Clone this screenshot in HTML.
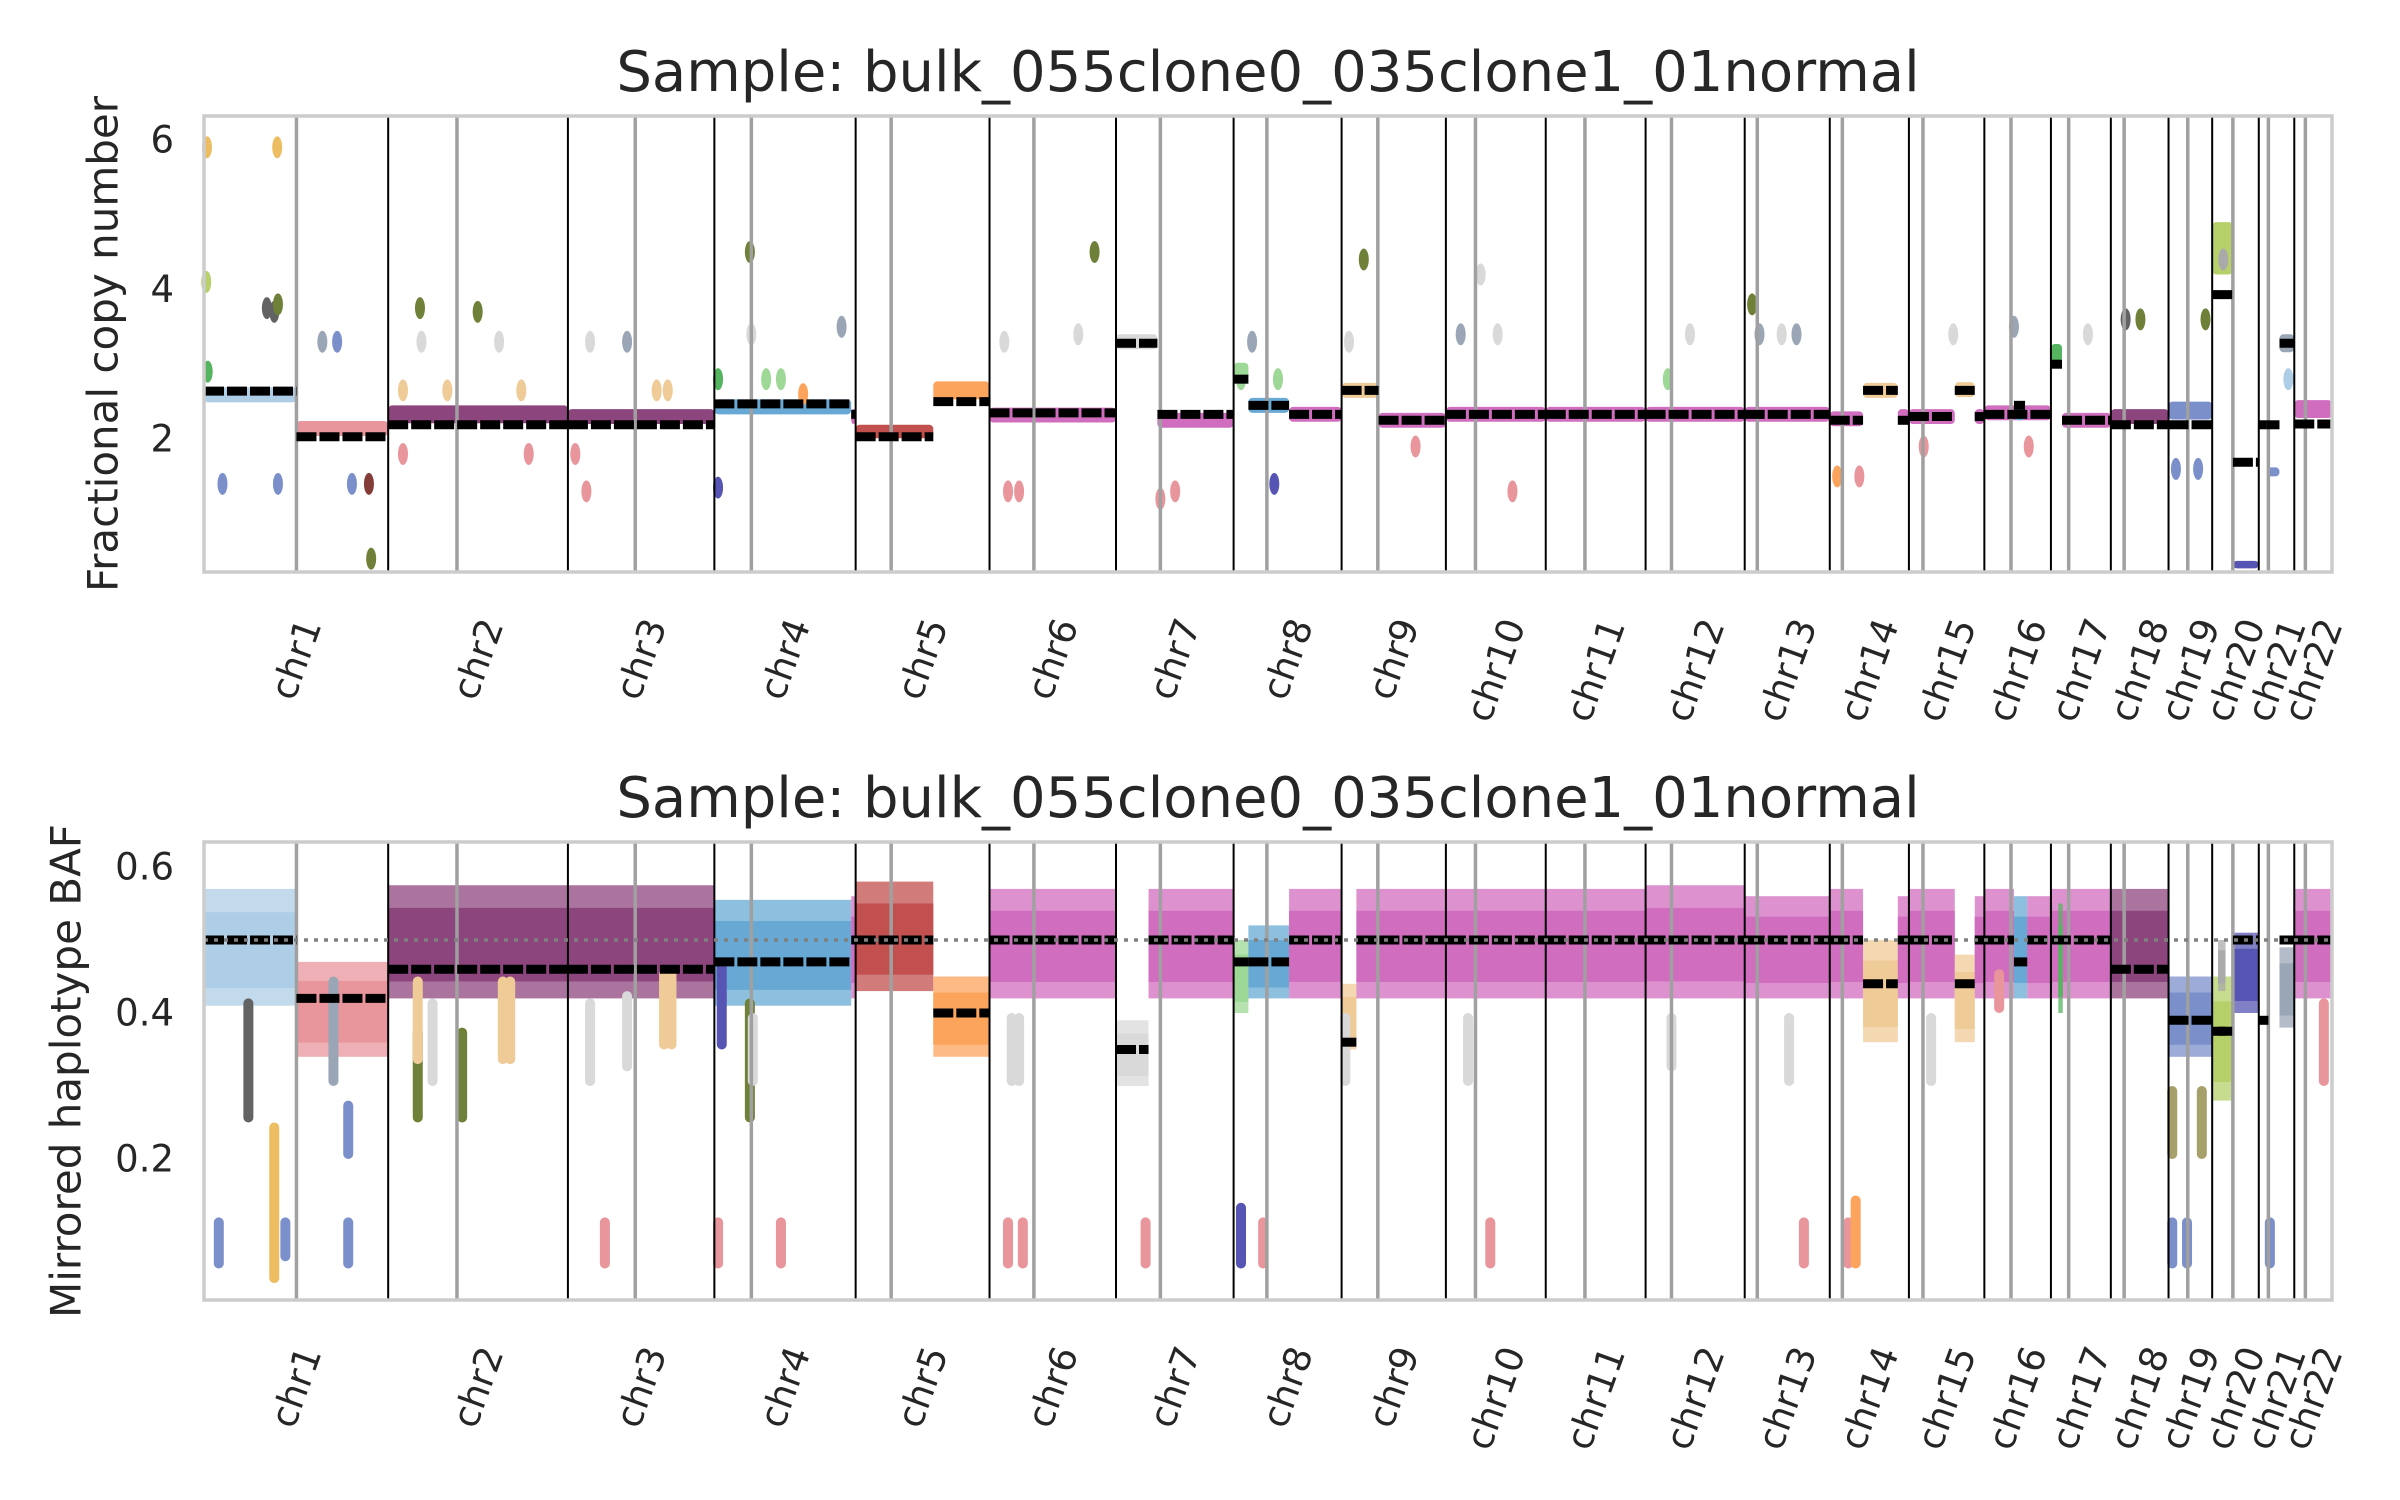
<!DOCTYPE html>
<html><head><meta charset="utf-8"><style>
html,body{margin:0;padding:0;background:#fff;}
svg{display:block;font-family:"DejaVu Sans","Liberation Sans",sans-serif;}
</style></head><body>
<svg id="chart" width="2400" height="1500" viewBox="0 0 2400 1500" xmlns="http://www.w3.org/2000/svg">
<rect x="0" y="0" width="2400" height="1500" fill="#fff"/>
<g id="cn-panel"></g>
<g id="baf-panel"></g>
</svg>
<script>
const chromNames = ["chr1","chr2","chr3","chr4","chr5","chr6","chr7","chr8","chr9","chr10","chr11","chr12","chr13","chr14","chr15","chr16","chr17","chr18","chr19","chr20","chr21","chr22"];
const chromLengths = [249,243,198,191,181,171,159,146,141,135,135,134,115,107,102,90,81,78,59,63,48,51];
const centromeres = [125,93,91,50,48,60,60,45,49,40,53,35,17,17,19,36,24,18,26,28,13,15];
const cnTicks = [2,4,6];
const bafTicks = [0.2,0.4,0.6];
const palette = {LB:"#aecde6",PK:"#e8959b",PU:"#8d457d",BL:"#67a9d4",DR:"#c1504f",OR:"#fca35c",MG:"#d16dbf",LG:"#d9d9d9",LGR:"#9dd896",TAN:"#efcb98",GR:"#54b45f",PE:"#7b8fcb",YG:"#b6d06a",DB:"#5755b3",GB:"#9aa6b6",OL:"#6f8139",DG:"#636363",YEL:"#ecbd61",BR:"#843c39",GRY:"#aaaaaa",KH:"#a8a06a"};

// CN segments
const cnChrom  = [1,1,2,3,4,4,5,5,6,7,7,8,8,8,9,9,10,11,12,13,14,14,14,15,15,15,16,16,17,17,18,19,20,20,21,21,21,22];
const cnStart  = [0,125,0,0,0,185,0,105,0,0,56,0,20,75,0,50,0,0,0,0,0,45,92,0,62,89,0,40,0,15,0,0,0,28,0,11,28,0];
const cnEnd    = [125,249,243,198,185,191,105,181,171,56,159,20,75,146,50,141,135,135,134,115,45,92,107,62,89,102,90,55,15,81,78,59,28,63,11,28,48,51];
const cnValue  = [2.59,2.14,2.33,2.3,2.43,2.3,2.1,2.65,2.32,3.3,2.25,2.9,2.45,2.33,2.65,2.25,2.33,2.33,2.33,2.33,2.27,2.65,2.3,2.3,2.66,2.3,2.35,2.35,3.15,2.25,2.3,2.38,4.55,0.32,2.19,1.56,3.28,2.4];
const cnSpread = [0.1,0.1,0.12,0.1,0.1,0.1,0.09,0.12,0.1,0.1,0.1,0.12,0.1,0.1,0.1,0.1,0.1,0.1,0.1,0.1,0.1,0.1,0.1,0.1,0.1,0.1,0.1,0.1,0.12,0.1,0.1,0.12,0.35,0.05,0.0,0.06,0.12,0.12];
const cnSeg    = [2.64,2.03,2.19,2.19,2.47,2.33,2.03,2.5,2.35,3.28,2.33,2.8,2.45,2.33,2.65,2.25,2.33,2.33,2.33,2.33,2.25,2.65,2.25,2.3,2.65,2.3,2.33,2.45,3.0,2.25,2.19,2.19,3.93,1.69,2.19,2.19,3.28,2.2];
const cnClone  = ["LB","PK","PU","PU","BL","MG","DR","OR","MG","LG","MG","LGR","BL","MG","TAN","MG","MG","MG","MG","MG","MG","TAN","MG","MG","TAN","MG","MG","BL","GR","MG","PU","PE","YG","DB","MG","PE","GB","MG"];

const cnOutChrom = [1,1,1,1,1,1,1,1,1,1,1,1,1,1,2,2,2,2,2,2,2,2,2,3,3,3,3,3,3,4,4,4,4,4,4,4,4,6,6,6,6,6,7,7,8,8,8,8,9,9,9,10,10,10,10,12,12,13,13,13,13,14,14,15,15,16,16,17,18,18,19,19,19,20,21];
const cnOutPos   = [4,99,95,85,100,25,100,5,3,160,180,200,223,226,43,45,121,150,20,80,180,20,190,30,80,120,135,10,25,48,50,5,5,70,90,172,120,142,20,120,25,40,80,60,10,25,55,60,10,30,100,47,20,70,90,60,30,20,50,70,10,40,10,60,20,40,60,50,20,40,10,40,50,15,40];
const cnOutVal   = [5.9,5.9,3.7,3.75,3.8,1.4,1.4,2.9,4.1,3.3,3.3,1.4,1.4,0.4,3.75,3.3,3.7,3.3,2.65,2.65,2.65,1.8,1.8,3.3,3.3,2.65,2.65,1.8,1.3,4.5,3.4,2.8,1.35,2.8,2.8,3.5,2.6,4.5,3.3,3.4,1.3,1.3,1.3,1.2,2.8,3.3,1.4,2.8,3.3,4.4,1.9,4.2,3.4,3.4,1.3,3.4,2.8,3.4,3.4,3.4,3.8,1.5,1.5,3.4,1.9,3.5,1.9,3.4,3.6,3.6,1.6,1.6,3.6,4.4,2.8];
const cnOutClone = ["YEL","YEL","DG","DG","OL","PE","PE","GR","YG","GB","PE","PE","BR","OL","OL","LG","OL","LG","TAN","TAN","TAN","PK","PK","LG","GB","TAN","TAN","PK","PK","OL","LG","GR","DB","LGR","LGR","GB","OR","OL","LG","LG","PK","PK","PK","PK","LGR","GB","DB","LGR","LG","OL","PK","LG","GB","LG","PK","LG","LGR","GB","LG","GB","OL","PK","OR","LG","PK","GB","PK","LG","DG","OL","PE","PE","OL","GRY","LB"];

// BAF segments
const bafChrom = [1,1,2,3,4,4,5,5,6,7,7,8,8,8,9,9,10,11,12,13,14,14,14,15,15,15,16,16,16,17,17,18,19,20,20,20,21,21,22];
const bafStart = [0,125,0,0,0,185,0,105,0,0,44,0,20,75,0,20,0,0,0,0,0,45,92,0,62,89,0,40,58,0,10,0,0,0,8,28,0,28,0];
const bafEnd   = [125,249,243,198,185,191,105,181,171,44,159,20,75,146,20,141,135,135,134,115,45,92,107,62,89,102,40,58,90,81,16,78,59,28,18,63,13,48,51];
const bafLow   = [0.41,0.34,0.42,0.42,0.41,0.42,0.43,0.34,0.42,0.30,0.42,0.40,0.42,0.42,0.35,0.42,0.42,0.42,0.42,0.42,0.42,0.36,0.42,0.42,0.36,0.42,0.42,0.42,0.42,0.42,0.40,0.42,0.34,0.28,0.43,0.40,0.39,0.38,0.42];
const bafHigh  = [0.57,0.47,0.575,0.575,0.555,0.56,0.58,0.45,0.57,0.39,0.57,0.50,0.52,0.57,0.44,0.57,0.57,0.57,0.575,0.56,0.57,0.50,0.56,0.57,0.48,0.56,0.57,0.56,0.56,0.57,0.55,0.57,0.45,0.45,0.50,0.51,0.39,0.49,0.57];
const bafSeg   = [0.5,0.42,0.46,0.46,0.47,0.5,0.5,0.40,0.5,0.35,0.5,0.47,0.47,0.5,0.36,0.5,0.5,0.5,0.5,0.5,0.5,0.44,0.5,0.5,0.44,0.5,0.5,0.47,0.5,0.5,0.5,0.46,0.39,0.375,0.375,0.5,0.39,0.5,0.5];
const bafClone = ["LB","PK","PU","PU","BL","MG","DR","OR","MG","LG","MG","LGR","BL","MG","TAN","MG","MG","MG","MG","MG","MG","TAN","MG","MG","TAN","MG","MG","BL","MG","MG","GR","PU","PE","YG","GRY","DB","LG","GB","MG"];

const bafOutChrom = [1,1,1,1,1,1,1,2,2,2,2,2,2,3,3,3,3,3,4,4,4,4,4,6,6,6,6,7,8,8,9,10,10,12,13,13,14,14,15,16,19,19,19,19,21,22];
const bafOutPos   = [20,110,60,95,195,195,175,40,40,60,100,155,165,30,50,80,130,140,5,48,52,10,90,30,40,25,45,40,10,40,5,60,30,35,60,80,25,35,30,20,5,25,5,45,15,40];
const bafOutLow   = [0.05,0.06,0.25,0.03,0.05,0.2,0.3,0.25,0.33,0.3,0.25,0.33,0.33,0.3,0.05,0.32,0.35,0.35,0.05,0.25,0.3,0.35,0.05,0.3,0.3,0.05,0.05,0.05,0.05,0.05,0.3,0.05,0.3,0.32,0.3,0.05,0.05,0.05,0.3,0.4,0.05,0.05,0.2,0.2,0.05,0.3];
const bafOutHigh  = [0.12,0.12,0.42,0.25,0.12,0.28,0.45,0.38,0.45,0.42,0.38,0.45,0.45,0.42,0.12,0.43,0.46,0.46,0.12,0.42,0.4,0.47,0.12,0.4,0.4,0.12,0.12,0.12,0.14,0.12,0.4,0.12,0.4,0.4,0.4,0.12,0.12,0.15,0.4,0.46,0.12,0.12,0.3,0.3,0.12,0.42];
const bafOutClone = ["PE","PE","DG","YEL","PE","PE","GB","OL","TAN","LG","OL","TAN","TAN","LG","PK","LG","TAN","TAN","PK","OL","LG","DB","PK","LG","LG","PK","PK","PK","DB","PK","LG","PK","LG","LG","LG","PK","PK","OR","LG","PK","PE","PE","KH","KH","PE","PK"];

const NS = "http://www.w3.org/2000/svg";
const X0 = 204, X1 = 2332;
const totalLen = chromLengths.reduce((a,b)=>a+b,0);
const chromStart = []; {let c=0; for (const l of chromLengths){chromStart.push(c); c+=l;}}
function xg(chrom, mb){ return X0 + (chromStart[chrom-1] + mb) * (X1 - X0) / totalLen; }

function el(tag, attrs, parent){
  const e = document.createElementNS(NS, tag);
  for (const k in attrs) e.setAttribute(k, attrs[k]);
  parent.appendChild(e); return e;
}

function buildPanel(g, top, bottom, vmin, vmax, cfg){
  const yv = v => bottom - (v - vmin) / (vmax - vmin) * (bottom - top);
  const clouds = el("g", {}, g);
  
  
  cfg.drawClouds(clouds, yv);
  const lines = el("g", {}, g);
  
  
  for (let i = 0; i < chromLengths.length; i++) {
    const cx = xg(i+1, centromeres[i]);
    const c = el("line", {x1:cx, x2:cx, y1:top, y2:bottom, stroke:"#a0a0a0", "stroke-width":3.5}, lines);
    
    
    if (i > 0) {
      const bx = xg(i+1, 0);
      const b = el("line", {x1:bx, x2:bx, y1:top, y2:bottom, stroke:"#000", "stroke-width":2}, lines);
      
      
    }
  }
  cfg.drawSegs(g, yv);
  const fr = el("rect", {x:X0, y:top, width:X1-X0, height:bottom-top, fill:"none", stroke:"#cccccc", "stroke-width":3.5}, g);
  
  
  for (const t of cfg.ticks) {
    const tx = el("text", {x:174, y:yv(t), "text-anchor":"end", "dominant-baseline":"central", "font-size":37, fill:"#262626"}, g);
    tx.textContent = cfg.fmt(t);
    
    
  }
  for (let i = 0; i < chromNames.length; i++) {
    const cx = xg(i+1, chromLengths[i]/2);
    const tx = el("text", {x:cx, y:0, "text-anchor":"middle", "dominant-baseline":"central", "font-size":37, fill:"#262626"}, g);
    tx.textContent = chromNames[i];
    
    
    const L = tx.getComputedTextLength();
    const s = Math.sin(70*Math.PI/180), c = Math.cos(70*Math.PI/180);
    const cy = bottom + 42 + (L*s + 37*c)/2;
    tx.setAttribute("y", cy);
    tx.setAttribute("transform", `rotate(-70 ${cx} ${cy})`);
  }
  const ti = el("text", {x:(X0+X1)/2, y:top-25, "text-anchor":"middle", "font-size":56, fill:"#262626"}, g);
  ti.textContent = "Sample: bulk_055clone0_035clone1_01normal";
  
  
  const my = (top+bottom)/2;
  const lx = cfg.labelX;
  const yl = el("text", {x:lx, y:my, "text-anchor":"middle", "dominant-baseline":"central", "font-size":42, fill:"#262626", transform:`rotate(-90 ${lx} ${my})`}, g);
  yl.textContent = cfg.ylabel;
  
  
}

(function(){
  const g = document.getElementById("cn-panel");
  const vmin = 2 - (572-439)/74.8, vmax = 2 + (439-116)/74.8;
  buildPanel(g, 116, 572, vmin, vmax, {
    ticks: cnTicks, fmt: t => String(t), ylabel: "Fractional copy number", labelX: 103,
    drawClouds: (gg, yv) => {
      for (let i = 0; i < cnChrom.length; i++) {
        if (cnSpread[i] <= 0) continue;
        const x1 = xg(cnChrom[i], cnStart[i]), x2 = xg(cnChrom[i], cnEnd[i]);
        const yt = yv(cnValue[i] + cnSpread[i]), yb = yv(cnValue[i] - cnSpread[i]);
        const r = el("rect", {x:x1, y:yt, width:Math.max(2,x2-x1), height:Math.max(4,yb-yt), rx:4, fill:palette[cnClone[i]]}, gg);
        
        
      }
      for (let i = 0; i < cnOutChrom.length; i++) {
        const e = el("ellipse", {cx:xg(cnOutChrom[i], cnOutPos[i]), cy:yv(cnOutVal[i]), rx:5, ry:11, fill:palette[cnOutClone[i]]}, gg);
        
        
      }
    },
    drawSegs: (gg, yv) => {
      for (let i = 0; i < cnChrom.length; i++) {
        const x1 = xg(cnChrom[i], cnStart[i]), x2 = xg(cnChrom[i], cnEnd[i]);
        const s = el("line", {x1:x1, x2:x2, y1:yv(cnSeg[i]), y2:yv(cnSeg[i]), stroke:"#000", "stroke-width":9, "stroke-dasharray":"20 3"}, gg);
        
        
      }
    }
  });

  const gb = document.getElementById("baf-panel");
  const bmin = 0.5 - (1300-940)/730, bmax = 0.5 + (940-842)/730;
  buildPanel(gb, 842, 1300, bmin, bmax, {
    ticks: bafTicks, fmt: t => t.toFixed(1), ylabel: "Mirrored haplotype BAF", labelX: 66,
    drawClouds: (gg, yv) => {
      for (let i = 0; i < bafChrom.length; i++) {
        const x1 = xg(bafChrom[i], bafStart[i]), x2 = xg(bafChrom[i], bafEnd[i]);
        const lo = bafLow[i], hi = bafHigh[i];
        const outer = el("rect", {x:x1, y:yv(hi), width:Math.max(2,x2-x1), height:yv(lo)-yv(hi), fill:palette[bafClone[i]], opacity:0.75}, gg);
        
        
        const span = hi - lo;
        const inner = el("rect", {x:x1, y:yv(hi - span*0.2), width:Math.max(2,x2-x1), height:yv(lo + span*0.15)-yv(hi - span*0.2), fill:palette[bafClone[i]]}, gg);
        
        
      }
      for (let i = 0; i < bafOutChrom.length; i++) {
        const cx = xg(bafOutChrom[i], bafOutPos[i]);
        const r = el("rect", {x:cx-5, y:yv(bafOutHigh[i]), width:10, height:yv(bafOutLow[i])-yv(bafOutHigh[i]), rx:5, fill:palette[bafOutClone[i]]}, gg);
        
        
      }
    },
    drawSegs: (gg, yv) => {
      for (let i = 0; i < bafChrom.length; i++) {
        const x1 = xg(bafChrom[i], bafStart[i]), x2 = xg(bafChrom[i], bafEnd[i]);
        const s = el("line", {x1:x1, x2:x2, y1:yv(bafSeg[i]), y2:yv(bafSeg[i]), stroke:"#000", "stroke-width":9, "stroke-dasharray":"20 3"}, gg);
        
        
      }
      const d = el("line", {x1:X0, x2:X1, y1:yv(0.5), y2:yv(0.5), stroke:"#808080", "stroke-width":3.5, "stroke-dasharray":"4 6"}, gg);
      
      
    }
  });
})();
</script>
</body></html>
